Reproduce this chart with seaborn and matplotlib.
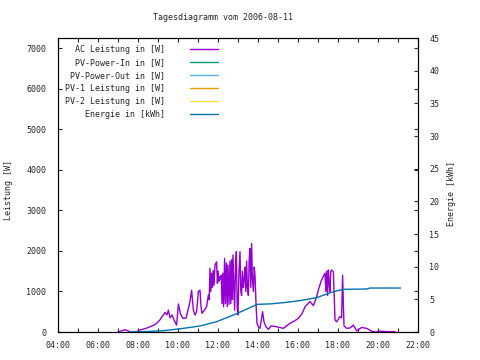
import matplotlib
matplotlib.use("Agg")
import matplotlib.pyplot as plt
import numpy as np
import pandas as pd
import seaborn as sns

# ---- data ----
title = "Tagesdiagramm vom 2006-08-11"
ac_time = [7.0, 7.2, 7.35, 7.5, 7.6, 7.9, 8.1, 8.4, 8.6, 8.8, 8.93, 9.1, 9.2, 9.27, 9.35, 9.45,
           9.52, 9.6, 9.7, 9.8, 9.93, 10.02, 10.12, 10.25, 10.4, 10.5, 10.6, 10.68, 10.77, 10.85,
           10.93, 11.02, 11.1, 11.15, 11.2, 11.35, 11.43, 11.52, 11.56, 11.6, 11.64, 11.68, 11.72,
           11.76, 11.8, 11.85, 11.93, 11.97, 12.0, 12.04, 12.08, 12.12, 12.16, 12.2, 12.24, 12.28,
           12.33, 12.37, 12.42, 12.46, 12.5, 12.55, 12.6, 12.64, 12.68, 12.72, 12.75, 12.79, 12.83,
           12.88, 12.92, 12.96, 13.0, 13.05, 13.1, 13.14, 13.18, 13.22, 13.27, 13.31, 13.35, 13.39,
           13.43, 13.47, 13.52, 13.56, 13.6, 13.64, 13.68, 13.72, 13.77, 13.81, 13.85, 13.9, 13.95,
           14.02, 14.1, 14.23, 14.3, 14.4, 14.52, 14.65, 14.93, 15.27, 15.6, 15.85, 16.02, 16.2,
           16.35, 16.6, 16.77, 16.93, 17.02, 17.18, 17.35, 17.39, 17.43, 17.48, 17.52, 17.56, 17.6,
           17.64, 17.68, 17.77, 17.85, 17.93, 18.1, 18.18, 18.23, 18.3, 18.43, 18.6, 18.77, 18.93,
           19.18, 19.43, 19.68, 19.85, 20.1, 20.43, 20.85]
ac_power = [0, 30, 55, 30, 0, 0, 50, 90, 130, 170, 215, 300, 380, 420, 480, 420,
            540, 350, 420, 300, 170, 690, 450, 335, 345, 540, 750, 1030, 540, 420,
            500, 1000, 1030, 625, 460, 560, 625, 910, 800, 1570, 1000, 1450, 1100,
            1520, 1150, 1650, 1730, 1200, 1500, 1250, 1360, 1300, 1400, 700, 1450, 625,
            1815, 700, 1700, 625, 1650, 680, 1750, 700, 1780, 800, 1900, 1200, 540,
            1700, 1980, 600, 420, 1500, 1980, 1000, 900, 1500, 1100, 1300, 1600, 1000,
            1750, 1100, 900, 1800, 2060, 1100, 2185, 1300, 1000, 1600, 1400, 700, 215,
            130, 90, 500, 250, 130, 65, 150, 130, 90, 215, 280, 340, 450,
            620, 750, 650, 870, 1040, 1290, 1450, 1000, 1500, 900, 1530, 1200, 1000,
            1500, 1530, 1480, 300, 250, 380, 350, 1400, 150, 90, 100, 170, 30,
            110, 90, 20, 0, 20, 10, 10]
pv_in_time, pv_in_power = [], []
pv_out_time, pv_out_power = [], []
pv1_time, pv1_power = [], []
pv2_time, pv2_power = [], []
en_time = [7.63, 8.5, 9.27, 10.27, 11.1, 11.93, 12.77, 13.6, 13.95, 14.6, 15.27, 16.1, 16.93,
           17.77, 18.27, 19.43, 19.6, 21.13]
en_kwh = [0.0, 0.08, 0.2, 0.56, 0.92, 1.58, 2.6, 3.72, 4.23, 4.3, 4.49, 4.8, 5.26,
          6.17, 6.53, 6.58, 6.73, 6.73]
labels = ["AC Leistung in [W]", "PV-Power-In in [W]", "PV-Power-Out in [W]",
          "PV-1 Leistung in [W]", "PV-2 Leistung in [W]", "Energie in [kWh]"]
colors = ["#9400d3", "#009e73", "#56b4e9", "#e69f00", "#f0e442", "#0072b2"]
x_ticks = list(range(4, 23, 2))
x_labels = [f"{h:02d}:00" for h in x_ticks]

sns.set_style("ticks")
plt.rcParams['font.family'] = ['DejaVu Sans Mono']
plt.rcParams['font.size'] = 6.0

fig = plt.figure(figsize=(4.8, 3.6), dpi=100)
ax = fig.add_axes([58/480, 28/360, 360/480, 294/360])
ax2 = ax.twinx()

ac_df = pd.DataFrame({"t": ac_time, "p": ac_power})
sns.lineplot(data=ac_df, x="t", y="p", ax=ax, color=colors[0], lw=1.0, label=labels[0], legend=False)
for tt, pp, lab, col in [(pv_in_time, pv_in_power, labels[1], colors[1]),
                         (pv_out_time, pv_out_power, labels[2], colors[2]),
                         (pv1_time, pv1_power, labels[3], colors[3]),
                         (pv2_time, pv2_power, labels[4], colors[4])]:
    ax.plot(tt, pp, color=col, lw=1.0, label=lab)
en_df = pd.DataFrame({"t": en_time, "e": en_kwh})
sns.lineplot(data=en_df, x="t", y="e", ax=ax2, color=colors[5], lw=1.0, label=labels[5], legend=False)

ax.set_xlim(4, 22)
ax.set_ylim(0, 7250)
ax2.set_ylim(0, 45)
ax.set_xticks(x_ticks)
ax.set_xticklabels(x_labels)
ax.set_xticks(range(4, 23), minor=True)
ax.set_yticks(range(0, 7001, 1000))
ax2.set_yticks(range(0, 46, 5))
ax.set_xlabel("")
ax.set_ylabel("")
ax2.set_ylabel("")
ax.tick_params(which='both', direction='in', top=True, right=True, length=3, width=0.8)
ax.tick_params(axis='y', pad=8.5)
ax.tick_params(axis='x', which='major', pad=6.5)
ax2.tick_params(direction='in', length=3, width=0.8, pad=8)
for a in (ax, ax2):
    for s in a.spines.values():
        s.set_visible(True)
        s.set_linewidth(0.8)
        s.set_color("black")

h1, l1 = ax.get_legend_handles_labels()
h2, l2 = ax2.get_legend_handles_labels()
leg = ax2.legend(h1 + h2, l1 + l2, loc='upper right', bbox_to_anchor=(0.444, 0.975),
                 frameon=False, markerfirst=False, handlelength=3.4, handletextpad=3.0,
                 labelspacing=0.47, borderpad=0, borderaxespad=0, fontsize=6.0)

fig.text(223/480, 1 - 18/360, title, ha='center', va='center', fontsize=6.0)
fig.text(9/480, 1 - 190/360, "Leistung [W]", rotation=90, ha='center', va='center', fontsize=6.0)
fig.text(452/480, 1 - 194/360, "Energie [kWh]", rotation=90, ha='center', va='center', fontsize=6.0)

fig.savefig("out.png", dpi=100)
